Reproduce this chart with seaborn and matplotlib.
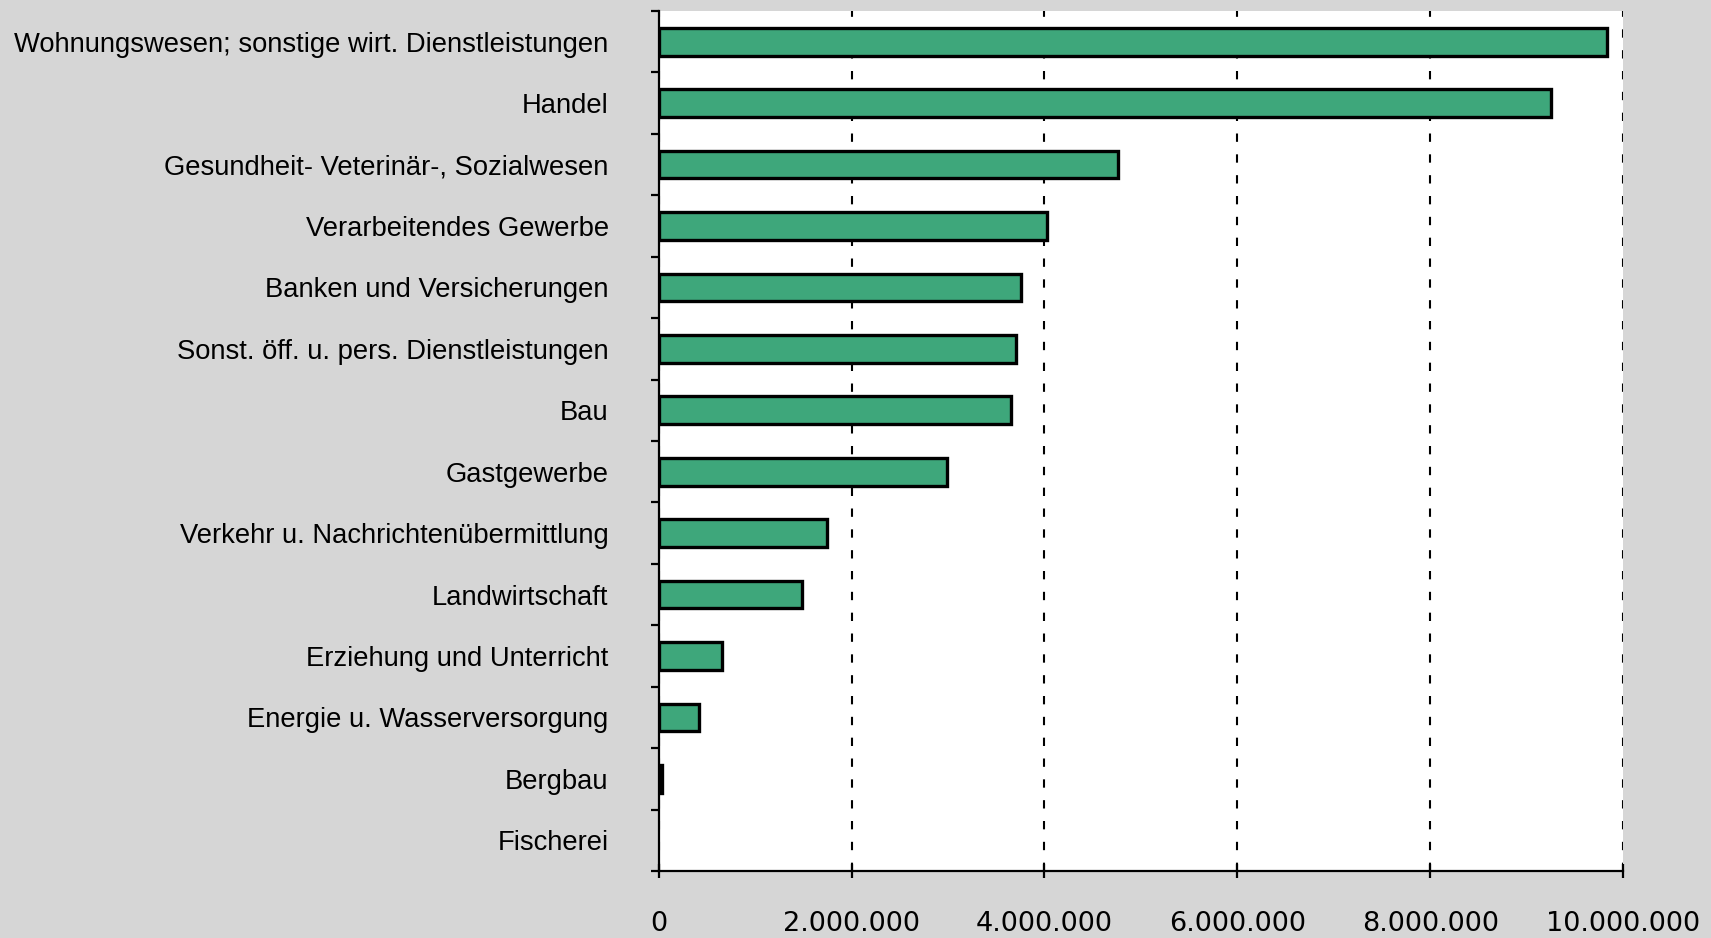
import matplotlib
matplotlib.use("Agg")
import matplotlib.pyplot as plt
import seaborn as sns
import pandas as pd
from matplotlib.ticker import FuncFormatter, FixedLocator

# Daten
branchen = [
    "Wohnungswesen; sonstige wirt. Dienstleistungen",
    "Handel",
    "Gesundheit- Veterinär-, Sozialwesen",
    "Verarbeitendes Gewerbe",
    "Banken und Versicherungen",
    "Sonst. öff. u. pers. Dienstleistungen",
    "Bau",
    "Gastgewerbe",
    "Verkehr u. Nachrichtenübermittlung",
    "Landwirtschaft",
    "Erziehung und Unterricht",
    "Energie u. Wasserversorgung",
    "Bergbau",
    "Fischerei",
]
werte = [9830000, 9250000, 4760000, 4030000, 3760000, 3700000, 3650000,
         2990000, 1740000, 1490000, 660000, 420000, 30000, 0]
x_ticks = [0, 2000000, 4000000, 6000000, 8000000, 10000000]

df = pd.DataFrame({"Branche": branchen, "Wert": werte})

sns.set_style("white")
plt.rcParams["font.family"] = ["DejaVu Sans"]

fig = plt.figure(figsize=(17.11, 9.38), dpi=100, facecolor="#d6d6d6")
ax = fig.add_axes([0.385, 0.0714, 0.5636, 0.9169])
ax.set_facecolor("white")

sns.barplot(data=df, x="Wert", y="Branche", orient="h", color="#3ea77b",
            saturation=1, width=0.45, edgecolor="black", linewidth=2.4, ax=ax)
for p in ax.patches:
    if p.get_width() == 0:
        p.set_linewidth(0)

ax.set_xlim(0, 10000000)
ax.set_ylim(len(branchen) - 0.5, -0.5)
ax.xaxis.set_major_locator(FixedLocator(x_ticks))
ax.xaxis.set_major_formatter(FuncFormatter(lambda v, p: f"{int(v):,}".replace(",", ".")))

# vertikale Hilfslinien
ax.set_axisbelow(True)
ax.grid(axis="x", color="black", linewidth=1.5, linestyle=(0, (4, 6)))
ax.grid(axis="y", visible=False)

for s in ["top", "right"]:
    ax.spines[s].set_visible(False)
for s in ["left", "bottom"]:
    ax.spines[s].set_color("black")
    ax.spines[s].set_linewidth(1.6)
    ax.spines[s].set_visible(True)

ax.set_xlabel("")
ax.set_ylabel("")
ax.tick_params(axis="x", bottom=True, direction="inout", length=10, width=1.6,
               colors="black", labelsize=19.5, pad=24)
ax.tick_params(axis="y", which="major", left=True, length=0, pad=36, labelsize=19.7)
ax.set_yticks([i + 0.5 for i in range(-1, len(branchen))], minor=True)
ax.tick_params(axis="y", which="minor", left=True, direction="out", length=6,
               width=1.6, color="black")
for lbl in ax.get_yticklabels():
    lbl.set_family(["Liberation Sans"])
    lbl.set_color("black")

fig.savefig("out.png", dpi=100, facecolor=fig.get_facecolor())
